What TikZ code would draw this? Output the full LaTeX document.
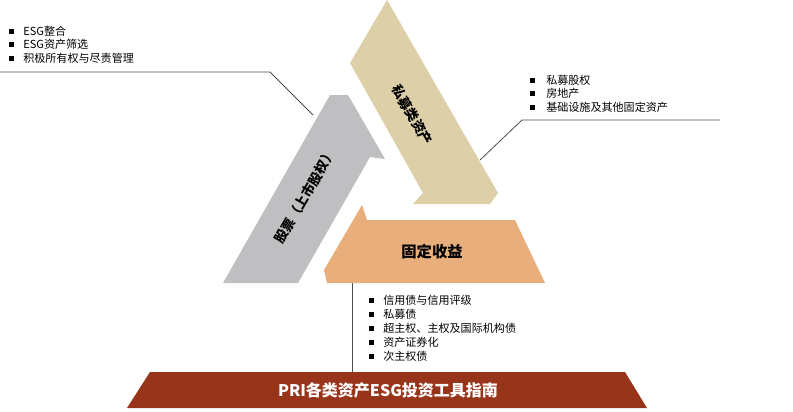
\documentclass[tikz,border=0pt]{standalone}
\usepackage{fontspec}
\setmainfont{Liberation Sans}
\newfontfamily\cjk{Noto Sans CJK SC}
\begin{document}
\begin{tikzpicture}[x=0.75pt,y=-0.75pt,
  bul/.style={anchor=west,font=\cjk\fontsize{8.3}{10}\selectfont,align=left,inner sep=0pt},
  lead/.style={draw=black!70,line width=0.6pt},
  lbl/.style={font=\cjk\bfseries\fontsize{10}{12}\selectfont,inner sep=0pt}]
\useasboundingbox (0,0) rectangle (793,411);
\definecolor{gr}{HTML}{BFBFC1}\definecolor{be}{HTML}{DDD0A8}
\definecolor{or}{HTML}{E8AE7C}\definecolor{rd}{HTML}{98341A}
\fill[gr] (223,283)--(330,95)--(348,95)--(385,159)--(370,157)--(298,283)--cycle;
\fill[be] (387,0)--(498,193)--(490,204)--(413,204)--(423,193)--(350,63)--cycle;
\fill[or] (324,270)--(362,205)--(367,220)--(515,220)--(545,283)--(327,283)--cycle;
\fill[rd] (150,372)--(625,372)--(647,408)--(127,408)--cycle;
\node[lbl,rotate=60] (g) at (305,196) {股票（上市股权）};
\node[lbl,rotate=-60] (b) at (412,115) {私募类资产};
\node[lbl,font=\cjk\bfseries\fontsize{11.5}{12}\selectfont] (o) at (432,252) {固定收益};
\node[font=\cjk\bfseries\fontsize{12}{14}\selectfont,text=white] (t) at (388,390) {PRI各类资产ESG投资工具指南};
\coordinate (l1) at (0,72); \coordinate (l2) at (270,72); \coordinate (l3) at (313,115);
\draw[lead] (l1)--(l2)--(l3);
\coordinate (r1) at (720,120); \coordinate (r2) at (522,120); \coordinate (r3) at (480,160);
\draw[lead] (r1)--(r2)--(r3);
\coordinate (v1) at (352,283); \coordinate (v2) at (352,372);
\draw[lead] (v1)--(v2);
\foreach \y/\t [count=\i] in {31/ESG整合,44/ESG资产筛选,58/积极所有权与尽责管理}
  {\node[bul] (a\i) at (23,\y) {\t}; \fill (8.5,\y-2.5) rectangle +(5,5);}
\foreach \y/\t [count=\i] in {80/私募股权,93/房地产,107/基础设施及其他固定资产}
  {\node[bul] (p\i) at (546,\y) {\t}; \fill (529.5,\y-2.5) rectangle +(5,5);}
\foreach \y/\t [count=\i] in {300/信用债与信用评级,314/私募债,328/超主权、主权及国际机构债,342/资产证券化,356/次主权债}
  {\node[bul] (f\i) at (383,\y) {\t}; \fill (368.5,\y-2.5) rectangle +(5,5);}
\end{tikzpicture}
\end{document}
